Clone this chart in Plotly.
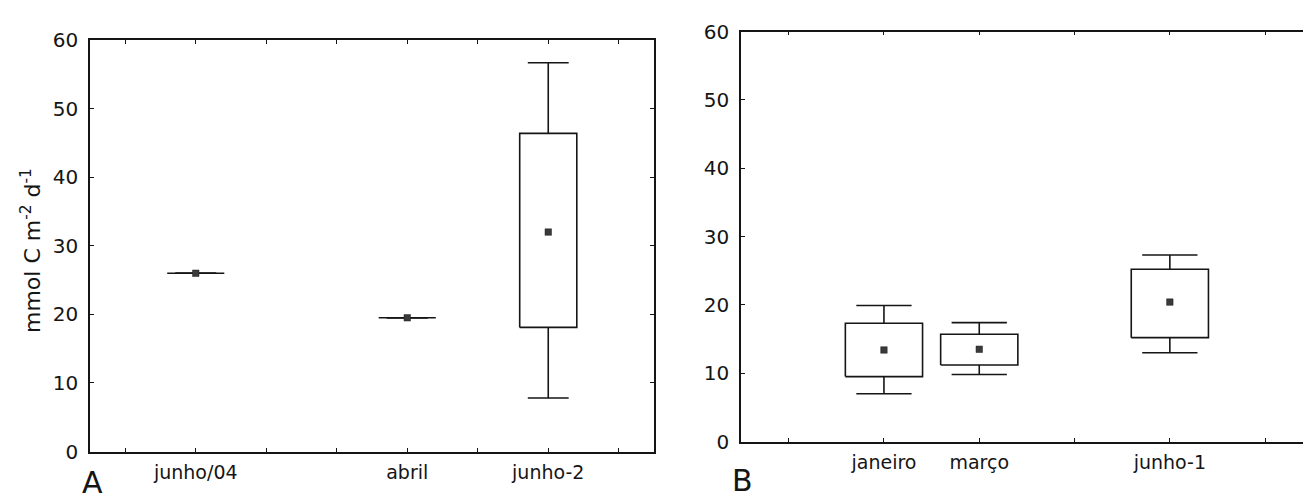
import plotly.graph_objects as go

# ---------------- data ----------------
# Panel A
A_labels = ["junho/04", "abril", "junho-2"]
A_slot = [1, 4, 6]
A_wh_lo = [26.0, 19.5, 7.8]
A_box_lo = [26.0, 19.5, 18.1]
A_mean = [26.0, 19.5, 32.0]
A_box_hi = [26.0, 19.5, 46.4]
A_wh_hi = [26.0, 19.5, 56.7]
A_nslots = 8

# Panel B
B_labels = ["janeiro", "março", "junho-1"]
B_slot = [1, 2, 4]
B_wh_lo = [7.0, 9.8, 13.0]
B_box_lo = [9.5, 11.2, 15.2]
B_mean = [13.4, 13.5, 20.4]
B_box_hi = [17.3, 15.7, 25.2]
B_wh_hi = [19.9, 17.4, 27.3]
B_nslots = 6

y_ticks = [0, 10, 20, 30, 40, 50, 60]
y_title = "mmol C m<sup>-2</sup> d<sup>-1</sup>"

# ---------------- figure ----------------
W, H = 1303, 504
FONT = "DejaVu Sans"
INK = "#151515"
BOX_W = 0.81      # box width in slot units
CAP_W = 0.58      # whisker-cap width in slot units

fig = go.Figure()


def add_panel(xa, ya, slots, wlo, blo, mean, bhi, whi):
    px, py = [], []
    for s, a, b, m, c, d in zip(slots, wlo, blo, mean, bhi, whi):
        xc = s + 0.5
        hb, hc = BOX_W / 2, CAP_W / 2
        # box
        px += [xc - hb, xc + hb, xc + hb, xc - hb, xc - hb, None]
        py += [b, b, c, c, b, None]
        # whiskers
        px += [xc, xc, None, xc, xc, None]
        py += [c, d, None, b, a, None]
        # caps
        px += [xc - hc, xc + hc, None, xc - hc, xc + hc, None]
        py += [d, d, None, a, a, None]
    fig.add_trace(go.Scatter(
        x=px, y=py, mode="lines", line=dict(color=INK, width=1.6),
        xaxis=xa, yaxis=ya, showlegend=False, hoverinfo="skip"))
    fig.add_trace(go.Scatter(
        x=[s + 0.5 for s in slots], y=mean, mode="markers",
        marker=dict(symbol="square", size=6.5, color="#3a3a3a",
                    line=dict(color="#222", width=0.5)),
        xaxis=xa, yaxis=ya, showlegend=False, hoverinfo="skip"))


add_panel("x", "y", A_slot, A_wh_lo, A_box_lo, A_mean, A_box_hi, A_wh_hi)
add_panel("x2", "y2", B_slot, B_wh_lo, B_box_lo, B_mean, B_box_hi, B_wh_hi)


def xticks(nslots, slots, labels):
    vals = [i + 0.5 for i in range(nslots)]
    text = [""] * nslots
    for s, l in zip(slots, labels):
        text[s] = l
    return vals, text


axA_vals, axA_text = xticks(A_nslots, A_slot, A_labels)
axB_vals, axB_text = xticks(B_nslots, B_slot, B_labels)

common_x = dict(showline=True, linecolor=INK, linewidth=1.6, ticks="inside",
                ticklen=4, tickwidth=1.3, tickcolor=INK, showgrid=False,
                zeroline=False, tickfont=dict(family=FONT, size=19, color=INK),
                ticklabelstandoff=3)
common_y = dict(showline=True, linecolor=INK, linewidth=1.6, ticks="inside",
                ticklen=4, tickwidth=1.3, tickcolor=INK, showgrid=False,
                zeroline=False, tickfont=dict(family=FONT, size=20, color=INK),
                range=[0, 60], tickvals=y_ticks, ticklabelstandoff=6)

# pixel geometry
A_left, A_right, A_top, A_bot = 90, 654, 29.5, 461.5
B_left, B_top, B_bot = 741, 20.5, 451
B_slotpx = 95.3
B_range_hi = (W - B_left) / B_slotpx

fig.update_layout(
    width=W, height=H,
    margin=dict(l=0, r=0, t=0, b=0),
    paper_bgcolor="white", plot_bgcolor="white",
    xaxis=dict(domain=[A_left / W, A_right / W], range=[0, A_nslots],
               tickvals=axA_vals, ticktext=axA_text, mirror="ticks",
               anchor="y", **common_x),
    yaxis=dict(domain=[(H - A_bot) / H, (H - A_top) / H], mirror="ticks",
               anchor="x", **common_y),
    xaxis2=dict(domain=[B_left / W, 1.0], range=[0, B_range_hi],
                tickvals=axB_vals, ticktext=axB_text, mirror="ticks",
                anchor="y2", **common_x),
    yaxis2=dict(domain=[(H - B_bot) / H, (H - B_top) / H], mirror=False,
                anchor="x2", **common_y),
)

fig.add_annotation(text=y_title, xref="paper", yref="paper",
                   x=31 / W, y=(H - 251) / H, textangle=-90, showarrow=False,
                   xanchor="center", yanchor="middle",
                   font=dict(family=FONT, size=22, color=INK))
fig.add_annotation(text="A", xref="paper", yref="paper",
                   x=93 / W, y=(H - 474) / H, showarrow=False,
                   xanchor="center", yanchor="top",
                   font=dict(family=FONT, size=30, color=INK))
fig.add_annotation(text="B", xref="paper", yref="paper",
                   x=742 / W, y=(H - 471) / H, showarrow=False,
                   xanchor="center", yanchor="top",
                   font=dict(family=FONT, size=30, color=INK))

fig.write_html("out.html")
